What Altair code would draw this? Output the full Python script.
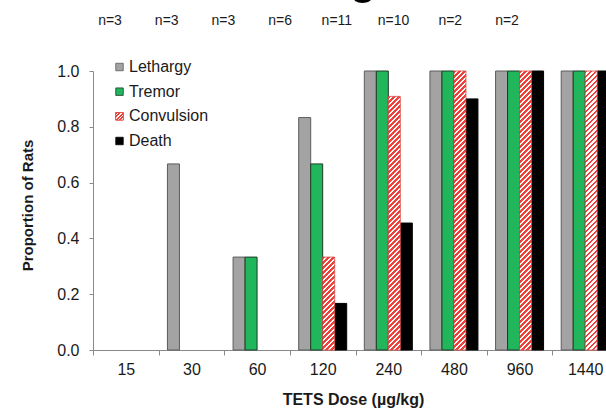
import altair as alt
import pandas as pd

# Dose groups, group sizes and observed proportions
doses = ["15", "30", "60", "120", "240", "480", "960", "1440"]
n_rats = [3, 3, 3, 6, 11, 10, 2, 2]
series = ["Lethargy", "Tremor", "Convulsion", "Death"]
lethargy = [0.0, 0.667, 0.333, 0.833, 1.0, 1.0, 1.0, 1.0]
tremor = [0.0, 0.0, 0.333, 0.667, 1.0, 1.0, 1.0, 1.0]
convulsion = [0.0, 0.0, 0.0, 0.333, 0.909, 1.0, 1.0, 1.0]
death = [0.0, 0.0, 0.0, 0.167, 0.455, 0.9, 1.0, 1.0]

FONT = "Liberation Sans"
TEXT = "#1a1a1a"
AXIS_GREY = "#8a8a8a"
fills = ["#a3a3a3", "#21b65b", "#f0463c", "#000000"]
strokes = ["#5c5c5c", "#1e3b28", "#d83a3a", "#000000"]

VIEW_W, VIEW_H = 513, 279   # visible plot area
BAND_RANGE = 525            # x range runs past the right edge
BAR_W = 12                  # width of each bar in a group
PAD_OUTER = (BAND_RANGE / len(doses) / BAR_W - len(series)) / 2


def hatch(w, h, period=5.0, red="#f0403a", white="#ffffff"):
    """Diagonal red/white stripes for a w x h box, as a linear gradient."""
    total = w + h
    k = w / (w * w + h * h)
    stops = []
    s = 0.0
    while s < total:
        a = s * k
        b = min(s + period / 2, total) * k
        c = min(s + period, total) * k
        stops += [
            alt.GradientStop(offset=a, color=red),
            alt.GradientStop(offset=b, color=red),
            alt.GradientStop(offset=b, color=white),
            alt.GradientStop(offset=c, color=white),
        ]
        s += period
    return alt.LinearGradient(gradient="linear", stops=stops,
                              x1=0, y1=0, x2=1, y2=h / w)


rows = []
for name, vals in zip(series, [lethargy, tremor, convulsion, death]):
    for d, v in zip(doses, vals):
        rows.append({"dose": d, "series": name, "value": v})
df = pd.DataFrame(rows)

x_enc = alt.X(
    "dose:N", sort=doses, title="TETS Dose (µg/kg)",
    scale=alt.Scale(domain=doses, range=[0, BAND_RANGE],
                    paddingInner=0, paddingOuter=0),
    axis=alt.Axis(labelAngle=0, tickBand="extent", tickSize=5,
                  labelPadding=6, labelFontSize=16, labelFont=FONT,
                  labelColor=TEXT, labelOverlap=False,
                  domainColor=AXIS_GREY, tickColor=AXIS_GREY,
                  titleFont=FONT, titleFontSize=16, titleFontWeight="bold",
                  titleColor=TEXT, titleX=260, titleY=49,
                  titleBaseline="middle", titleAlign="center"),
)
xoff = alt.XOffset("series:N", sort=series,
                   scale=alt.Scale(domain=series, paddingInner=0,
                                   paddingOuter=PAD_OUTER))
y_enc = alt.Y(
    "value:Q", title="Proportion of Rats",
    scale=alt.Scale(domain=[0, 1], nice=False),
    axis=alt.Axis(values=[0, 0.2, 0.4, 0.6, 0.8, 1.0], format=".1f",
                  grid=False, tickSize=4, labelPadding=10,
                  labelFontSize=16, labelFont=FONT, labelColor=TEXT,
                  domainColor=AXIS_GREY, tickColor=AXIS_GREY,
                  titleFont=FONT, titleFontSize=15, titleFontWeight="bold",
                  titleColor=TEXT, titleX=-66, titleY=134, titleAngle=-90,
                  titleBaseline="middle", titleAlign="center"),
)

fill_scale = alt.Scale(domain=series, range=fills)
stroke_scale = alt.Scale(domain=series, range=strokes)

base = alt.Chart(df).encode(x=x_enc, xOffset=xoff, y=y_enc)

solid = base.transform_filter(
    "datum.value > 0 && datum.series != 'Convulsion'"
).mark_bar(strokeWidth=1).encode(
    fill=alt.Fill("series:N", scale=fill_scale, legend=None),
    stroke=alt.Stroke("series:N", scale=stroke_scale, legend=None),
)

# hatched convulsion bars: one layer per bar height so the stripes stay at 45°
conv_layers = []
for v in sorted(set(c for c in convulsion if c > 0)):
    conv_layers.append(
        base.transform_filter(
            f"datum.series == 'Convulsion' && datum.value == {v}"
        ).mark_bar(fill=hatch(BAR_W, v * VIEW_H), stroke="#d84a44",
                   strokeWidth=0.8)
    )

bars = alt.layer(solid, *conv_layers)

# legend drawn in the upper-left of the plot
leg_df = pd.DataFrame({"series": series})
leg_y = alt.Y("series:N", sort=series, axis=None,
              scale=alt.Scale(type="point", domain=series, range=[-4, 70],
                              padding=0))
leg_sq = alt.Chart(leg_df).mark_square(size=56, strokeWidth=0.8,
                                       opacity=1).encode(
    x=alt.value(26.5), y=leg_y,
    fill=alt.Fill("series:N", scale=fill_scale, legend=None),
    stroke=alt.Stroke("series:N", scale=stroke_scale, legend=None),
)
leg_conv = alt.Chart(leg_df).transform_filter(
    "datum.series == 'Convulsion'"
).mark_square(size=56, fill=hatch(7.5, 7.5, period=3.5), stroke="#d84a44",
              strokeWidth=0.8, opacity=1).encode(x=alt.value(26.5), y=leg_y)
leg_txt = alt.Chart(leg_df).mark_text(
    align="left", baseline="middle", fontSize=16, font=FONT, color=TEXT
).encode(x=alt.value(36), y=leg_y, text="series:N")
legend = alt.layer(leg_sq, leg_conv, leg_txt)

# group sizes above the plot
n_df = pd.DataFrame({"dose": doses,
                     "label": [f"n={n}" for n in n_rats]})
n_txt = alt.Chart(n_df).mark_text(
    fontSize=14, font=FONT, color=TEXT, baseline="middle"
).encode(
    x=alt.X("dose:N", sort=doses, axis=None,
            scale=alt.Scale(type="point", domain=doses, range=[17, 414],
                            padding=0)),
    y=alt.value(-50),
    text="label:N",
)

# large heading text that runs off the top edge
head = alt.Chart(pd.DataFrame({"t": ["g"]})).mark_text(
    fontSize=50, font=FONT, color="#000000", align="center",
    baseline="alphabetic"
).encode(x=alt.value(270), y=alt.value(-78), text="t:N")

chart = alt.layer(bars, legend, n_txt, head).resolve_scale(
    x="independent", y="independent"
).properties(
    width=VIEW_W, height=VIEW_H,
    autosize=alt.AutoSizeParams(type="none"),
    padding={"left": 93, "top": 71, "right": 0, "bottom": 59},
    background="white",
).configure_view(stroke=None)

chart.save("out.html", embed_options={"renderer": "svg", "actions": False})
